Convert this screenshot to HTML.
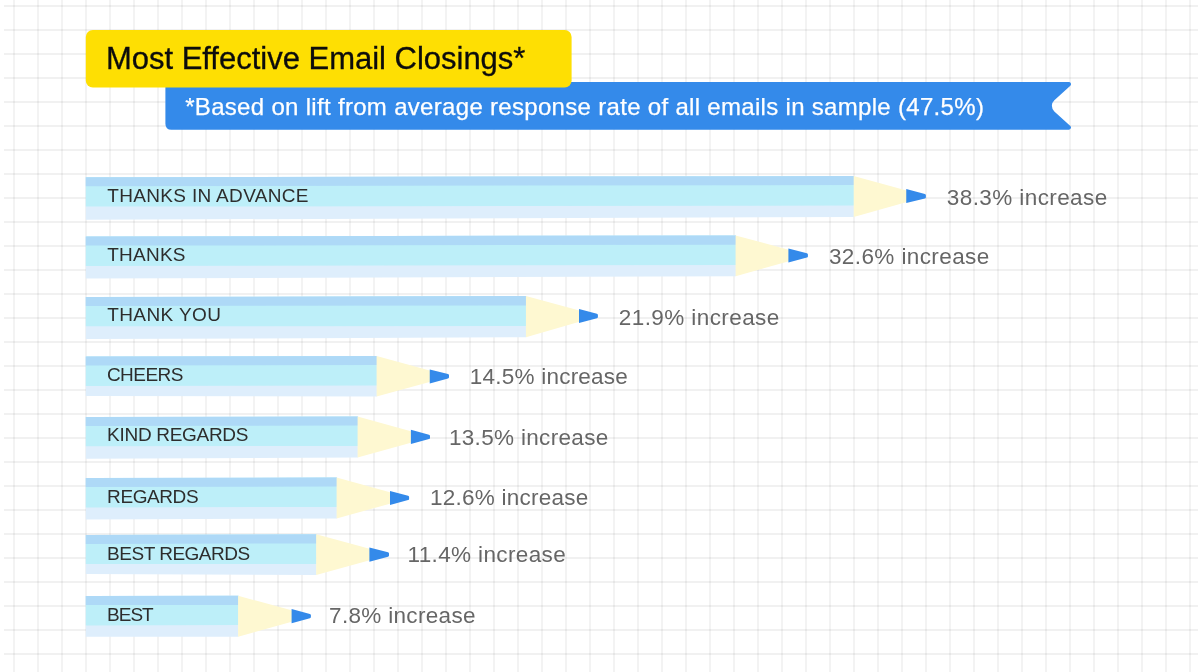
<!DOCTYPE html>
<html lang="en"><head><meta charset="utf-8"><title>Most Effective Email Closings</title>
<style>
html,body{margin:0;padding:0;background:#fff;}
body{width:1200px;height:672px;position:relative;overflow:hidden;font-family:"Liberation Sans",sans-serif;}
#art{position:absolute;left:0;top:0;}
.t{position:absolute;white-space:nowrap;line-height:1;}
.ttl{font-size:31px;color:#0c0c0c;-webkit-text-stroke:0.3px #0c0c0c;}
.sub{font-size:24px;color:#fff;-webkit-text-stroke:0.25px #fff;}
.lab{font-size:19px;color:#2d2d2d;}
.pct{font-size:22.5px;color:#666;}
</style></head><body>
<svg id="art" width="1200" height="672" viewBox="0 0 1200 672">
<g stroke="#000" stroke-opacity=".075" stroke-width="1.35"><line x1="14" y1="0" x2="14" y2="672"/><line x1="38" y1="0" x2="38" y2="672"/><line x1="62" y1="0" x2="62" y2="672"/><line x1="86" y1="0" x2="86" y2="672"/><line x1="110" y1="0" x2="110" y2="672"/><line x1="134" y1="0" x2="134" y2="672"/><line x1="158" y1="0" x2="158" y2="672"/><line x1="182" y1="0" x2="182" y2="672"/><line x1="206" y1="0" x2="206" y2="672"/><line x1="230" y1="0" x2="230" y2="672"/><line x1="254" y1="0" x2="254" y2="672"/><line x1="278" y1="0" x2="278" y2="672"/><line x1="302" y1="0" x2="302" y2="672"/><line x1="326" y1="0" x2="326" y2="672"/><line x1="350" y1="0" x2="350" y2="672"/><line x1="374" y1="0" x2="374" y2="672"/><line x1="398" y1="0" x2="398" y2="672"/><line x1="422" y1="0" x2="422" y2="672"/><line x1="446" y1="0" x2="446" y2="672"/><line x1="470" y1="0" x2="470" y2="672"/><line x1="494" y1="0" x2="494" y2="672"/><line x1="518" y1="0" x2="518" y2="672"/><line x1="542" y1="0" x2="542" y2="672"/><line x1="566" y1="0" x2="566" y2="672"/><line x1="590" y1="0" x2="590" y2="672"/><line x1="614" y1="0" x2="614" y2="672"/><line x1="638" y1="0" x2="638" y2="672"/><line x1="662" y1="0" x2="662" y2="672"/><line x1="686" y1="0" x2="686" y2="672"/><line x1="710" y1="0" x2="710" y2="672"/><line x1="734" y1="0" x2="734" y2="672"/><line x1="758" y1="0" x2="758" y2="672"/><line x1="782" y1="0" x2="782" y2="672"/><line x1="806" y1="0" x2="806" y2="672"/><line x1="830" y1="0" x2="830" y2="672"/><line x1="854" y1="0" x2="854" y2="672"/><line x1="878" y1="0" x2="878" y2="672"/><line x1="902" y1="0" x2="902" y2="672"/><line x1="926" y1="0" x2="926" y2="672"/><line x1="950" y1="0" x2="950" y2="672"/><line x1="974" y1="0" x2="974" y2="672"/><line x1="998" y1="0" x2="998" y2="672"/><line x1="1022" y1="0" x2="1022" y2="672"/><line x1="1046" y1="0" x2="1046" y2="672"/><line x1="1070" y1="0" x2="1070" y2="672"/><line x1="1094" y1="0" x2="1094" y2="672"/><line x1="1118" y1="0" x2="1118" y2="672"/><line x1="1142" y1="0" x2="1142" y2="672"/><line x1="1166" y1="0" x2="1166" y2="672"/><line x1="1190" y1="0" x2="1190" y2="672"/><line x1="4" y1="6" x2="1198" y2="6"/><line x1="4" y1="30" x2="1198" y2="30"/><line x1="4" y1="54" x2="1198" y2="54"/><line x1="4" y1="78" x2="1198" y2="78"/><line x1="4" y1="102" x2="1198" y2="102"/><line x1="4" y1="126" x2="1198" y2="126"/><line x1="4" y1="150" x2="1198" y2="150"/><line x1="4" y1="174" x2="1198" y2="174"/><line x1="4" y1="198" x2="1198" y2="198"/><line x1="4" y1="222" x2="1198" y2="222"/><line x1="4" y1="246" x2="1198" y2="246"/><line x1="4" y1="270" x2="1198" y2="270"/><line x1="4" y1="294" x2="1198" y2="294"/><line x1="4" y1="318" x2="1198" y2="318"/><line x1="4" y1="342" x2="1198" y2="342"/><line x1="4" y1="366" x2="1198" y2="366"/><line x1="4" y1="390" x2="1198" y2="390"/><line x1="4" y1="414" x2="1198" y2="414"/><line x1="4" y1="438" x2="1198" y2="438"/><line x1="4" y1="462" x2="1198" y2="462"/><line x1="4" y1="486" x2="1198" y2="486"/><line x1="4" y1="510" x2="1198" y2="510"/><line x1="4" y1="534" x2="1198" y2="534"/><line x1="4" y1="558" x2="1198" y2="558"/><line x1="4" y1="582" x2="1198" y2="582"/><line x1="4" y1="606" x2="1198" y2="606"/><line x1="4" y1="630" x2="1198" y2="630"/><line x1="4" y1="654" x2="1198" y2="654"/></g>
<path fill="#348aea" d="M171.5,81.9 H1068.85 A2.2,2.2 0 0 1 1070.34,85.65 L1054.34,100.3 A7.5,7.5 0 0 0 1054.34,111.4 L1070.34,125.95 A2.2,2.2 0 0 1 1068.85,129.7 H171.5 Q165.4,129.7 165.4,123.7 V81.9 Z"/>
<g><polygon fill="#deeefc" points="85.8,177.25 854,176 854,216.9 85.8,219.75"/><polygon fill="#bdeff9" points="85.8,177.25 854,176 854,205.6 85.8,206.6"/><polygon fill="#aed9f7" points="85.8,177.25 854,176 854,185 85.8,186.25"/><polygon fill="#fef8d1" points="853.7,176 923.9,195.25 923.9,197.25 853.7,216.9"/><path fill="#348aea" d="M906.25,189 L924.9,194.05 Q925.9,194.25 925.9,195.25 V197.25 Q925.9,198.25 924.9,198.45 L906.25,203.1 Z"/></g>
<g><polygon fill="#deeefc" points="85.8,236.6 735.9,235.4 735.9,276.25 85.8,278.5"/><polygon fill="#bdeff9" points="85.8,236.6 735.9,235.4 735.9,265 85.8,266"/><polygon fill="#aed9f7" points="85.8,236.6 735.9,235.4 735.9,244.75 85.8,245.6"/><polygon fill="#fef8d1" points="735.6,235.4 805.9,254.4 805.9,256.4 735.6,276.25"/><path fill="#348aea" d="M788.4,248.5 L806.9,253.2 Q807.9,253.4 807.9,254.4 V256.4 Q807.9,257.4 806.9,257.6 L788.4,262.5 Z"/></g>
<g><polygon fill="#deeefc" points="85.8,297.1 526.25,296 526.25,337.25 85.8,339.1"/><polygon fill="#bdeff9" points="85.8,297.1 526.25,296 526.25,326 85.8,326.25"/><polygon fill="#aed9f7" points="85.8,297.1 526.25,296 526.25,305.6 85.8,306"/><polygon fill="#fef8d1" points="525.95,296 595.9,315 595.9,317 525.95,337.25"/><path fill="#348aea" d="M579,309 L596.9,313.8 Q597.9,314 597.9,315 V317 Q597.9,318 596.9,318.2 L579,322.9 Z"/></g>
<g><polygon fill="#deeefc" points="85.8,356.5 376.9,356 376.9,396.6 85.8,395.9"/><polygon fill="#bdeff9" points="85.8,356.5 376.9,356 376.9,385.6 85.8,385.9"/><polygon fill="#aed9f7" points="85.8,356.5 376.9,356 376.9,365 85.8,365.4"/><polygon fill="#fef8d1" points="376.6,356 447,375.25 447,377.25 376.6,396.6"/><path fill="#348aea" d="M429.75,369.4 L448,374.05 Q449,374.25 449,375.25 V377.25 Q449,378.25 448,378.45 L429.75,383.4 Z"/></g>
<g><polygon fill="#deeefc" points="85.8,417.1 357.9,416.5 357.9,457.5 85.8,458.75"/><polygon fill="#bdeff9" points="85.8,417.1 357.9,416.5 357.9,446 85.8,446.25"/><polygon fill="#aed9f7" points="85.8,417.1 357.9,416.5 357.9,425.6 85.8,426"/><polygon fill="#fef8d1" points="357.6,416.5 428,435.9 428,437.9 357.6,457.5"/><path fill="#348aea" d="M410.9,429.75 L429,434.7 Q430,434.9 430,435.9 V437.9 Q430,438.9 429,439.1 L410.9,444 Z"/></g>
<g><polygon fill="#deeefc" points="85.8,478.1 336.9,477.5 336.9,518.5 85.8,519.4"/><polygon fill="#bdeff9" points="85.8,478.1 336.9,477.5 336.9,506.9 85.8,507.5"/><polygon fill="#aed9f7" points="85.8,478.1 336.9,477.5 336.9,486.5 85.8,487.1"/><polygon fill="#fef8d1" points="336.6,477.5 407.1,496.9 407.1,498.9 336.6,518.5"/><path fill="#348aea" d="M390,490.9 L408.1,495.7 Q409.1,495.9 409.1,496.9 V498.9 Q409.1,499.9 408.1,500.1 L390,505 Z"/></g>
<g><polygon fill="#deeefc" points="85.8,534.9 316.5,534.25 316.5,575.1 85.8,573.9"/><polygon fill="#bdeff9" points="85.8,534.9 316.5,534.25 316.5,563.9 85.8,564.1"/><polygon fill="#aed9f7" points="85.8,534.9 316.5,534.25 316.5,543.5 85.8,543.9"/><polygon fill="#fef8d1" points="316.2,534.25 387,553.5 387,555.5 316.2,575.1"/><path fill="#348aea" d="M369.4,547.4 L388,552.3 Q389,552.5 389,553.5 V555.5 Q389,556.5 388,556.7 L369.4,561.75 Z"/></g>
<g><polygon fill="#deeefc" points="85.8,596.1 238.4,595.75 238.4,636.75 85.8,636.75"/><polygon fill="#bdeff9" points="85.8,596.1 238.4,595.75 238.4,625.1 85.8,625.5"/><polygon fill="#aed9f7" points="85.8,596.1 238.4,595.75 238.4,604.9 85.8,605.1"/><polygon fill="#fef8d1" points="238.1,595.75 308.9,615.1 308.9,617.1 238.1,636.75"/><path fill="#348aea" d="M291.6,609 L309.9,613.9 Q310.9,614.1 310.9,615.1 V617.1 Q310.9,618.1 309.9,618.3 L291.6,623.25 Z"/></g>
<rect x="85.8" y="30" width="485.8" height="57.5" rx="7" ry="7" fill="#fedf03"/>
</svg>
<div id="t0" class="t ttl" style="left:105.9px;top:43px;letter-spacing:-0.01px">Most Effective Email Closings*</div>
<div id="t1" class="t sub" style="left:185.2px;top:95px;letter-spacing:0.31px">*Based on lift from average response rate of all emails in sample (47.5%)</div>
<div id="l0" class="t lab" style="left:107.24px;top:186px;letter-spacing:0.33px">THANKS IN ADVANCE</div>
<div id="l1" class="t lab" style="left:107.24px;top:245px;letter-spacing:0.23px">THANKS</div>
<div id="l2" class="t lab" style="left:107.24px;top:305px;letter-spacing:0.39px">THANK YOU</div>
<div id="l3" class="t lab" style="left:106.88px;top:365px;letter-spacing:-0.52px">CHEERS</div>
<div id="l4" class="t lab" style="left:107.12px;top:425px;letter-spacing:-0.3px">KIND REGARDS</div>
<div id="l5" class="t lab" style="left:107.12px;top:487px;letter-spacing:-0.42px">REGARDS</div>
<div id="l6" class="t lab" style="left:107.12px;top:544px;letter-spacing:-0.5px">BEST REGARDS</div>
<div id="l7" class="t lab" style="left:107.12px;top:605px;letter-spacing:-1.01px">BEST</div>
<div id="p0" class="t pct" style="left:946.8px;top:187px;letter-spacing:0.41px">38.3% increase</div>
<div id="p1" class="t pct" style="left:828.96px;top:246px;letter-spacing:0.4px">32.6% increase</div>
<div id="p2" class="t pct" style="left:618.84px;top:307px;letter-spacing:0.41px">21.9% increase</div>
<div id="p3" class="t pct" style="left:469.85px;top:366px;letter-spacing:0.22px">14.5% increase</div>
<div id="p4" class="t pct" style="left:448.88px;top:427px;letter-spacing:0.33px">13.5% increase</div>
<div id="p5" class="t pct" style="left:429.88px;top:487px;letter-spacing:0.26px">12.6% increase</div>
<div id="p6" class="t pct" style="left:407.52px;top:544px;letter-spacing:0.37px">11.4% increase</div>
<div id="p7" class="t pct" style="left:329.08px;top:605px;letter-spacing:0.32px">7.8% increase</div>
</body></html>
